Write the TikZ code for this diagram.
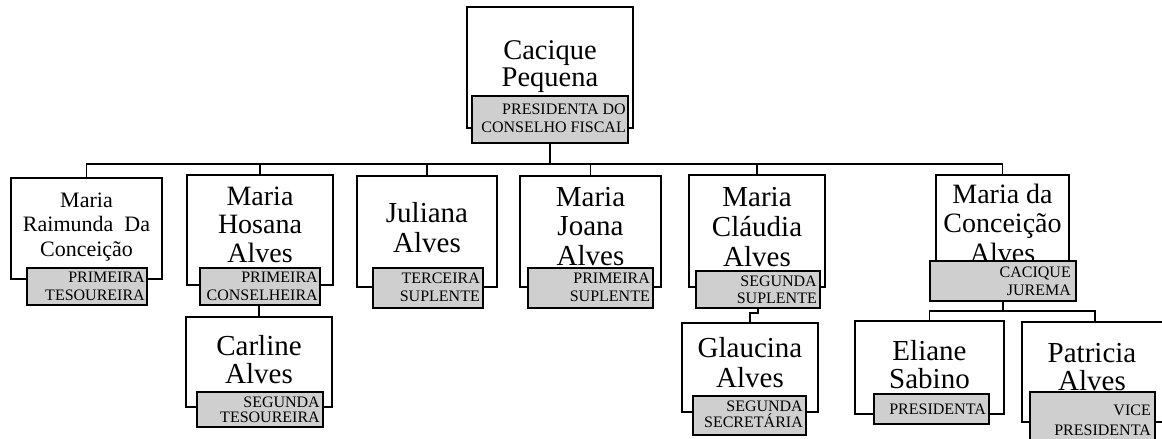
\documentclass[tikz,border=0pt]{standalone}
\usepackage{fontspec}
\setmainfont{Liberation Serif}
\definecolor{labgray}{RGB}{207,207,207}
\tikzset{
 pbox/.style={draw, line width=1.8pt, fill=white, inner sep=0pt},
 lbox/.style={draw, line width=1.6pt, fill=labgray, inner sep=0pt},
 nm/.style={align=center, inner sep=0pt, anchor=base, font=\fontsize{29}{29.5}\selectfont},
 lt/.style={align=right, inner sep=0pt, anchor=base east, font=\fontsize{16}{17.5}\selectfont},
 conn/.style={line width=1.8pt},
}
\newcommand\pbx[5]{\node[pbox, minimum width={(#4)-(#2)}, minimum height={(#5)-(#3)}] (#1) at ({((#2)+(#4))/2},{((#3)+(#5))/2}) {};}
\newcommand\lbx[5]{\node[lbox, minimum width={(#4)-(#2)}, minimum height={(#5)-(#3)}] (#1) at ({((#2)+(#4))/2},{((#3)+(#5))/2}) {};}
\begin{document}
\begin{tikzpicture}[x=1pt,y=-1pt]
\useasboundingbox (0,0) rectangle (1162,439);
\clip (0,0) rectangle (1162,439);
% top
\pbx{b0}{467}{7}{633}{128}
\node[nm, font=\fontsize{28.5}{26.5}\selectfont] (n0) at (550,86) {Cacique\\Pequena};
\lbx{l0}{472}{96}{628}{143}
\node[lt] (t0) at (626,132) {PRESIDENTA DO\\CONSELHO FISCAL};
% row 1
\pbx{b1}{11}{178}{162}{279}
\node[nm, font=\fontsize{22}{24.5}\selectfont] (n1) at (86.5,256) {Maria\\Raimunda~ Da\\Conceição};
\lbx{l1}{27}{268}{147}{305}
\node[lt] (t1) at (145,300) {PRIMEIRA\\TESOUREIRA};
\pbx{b2}{187}{175}{333}{285}
\node[nm, font=\fontsize{28}{28.5}\selectfont] (n2) at (260,262) {Maria\\Hosana\\Alves};
\lbx{l2}{200}{268}{320}{305}
\node[lt] (t2) at (318,300) {PRIMEIRA\\CONSELHEIRA};
\pbx{b3}{357}{176}{497}{287}
\node[nm, font=\fontsize{29}{30}\selectfont] (n3) at (427,252) {Juliana\\Alves};
\lbx{l3}{373}{268}{483}{308}
\node[lt] (t3) at (480,301) {TERCEIRA\\SUPLENTE};
\pbx{b4}{520}{176}{661}{287}
\node[nm] (n4) at (590.5,265) {Maria\\Joana\\Alves};
\lbx{l4}{528}{268}{653}{308}
\node[lt] (t4) at (650,301) {PRIMEIRA\\SUPLENTE};
\pbx{b5}{689}{175}{825}{287}
\node[nm, font=\fontsize{29}{30}\selectfont] (n5) at (757,266) {Maria\\Cláudia\\Alves};
\lbx{l5}{696}{271}{820}{308}
\node[lt, font=\fontsize{16}{16.5}\selectfont] (t5) at (817,303) {SEGUNDA\\SUPLENTE};
\pbx{b6}{936}{175}{1069}{275}
\node[nm, font=\fontsize{28}{29.5}\selectfont] (n6) at (1002.5,262) {Maria da\\Conceição\\Alves};
\lbx{l6}{930}{261}{1076}{301}
\node[lt] (t6) at (1071,295) {CACIQUE\\JUREMA};
% row 2
\pbx{b7}{186}{317}{332}{407}
\node[nm, font=\fontsize{29}{28}\selectfont] (n7) at (259,383) {Carline\\Alves};
\lbx{l7}{197}{392}{323}{427}
\node[lt, font=\fontsize{16}{14.5}\selectfont] (t7) at (320,422) {SEGUNDA\\TESOUREIRA};
\pbx{b8}{682}{323}{818}{412}
\node[nm, font=\fontsize{29}{30}\selectfont] (n8) at (750,387) {Glaucina\\Alves};
\lbx{l8}{693}{396}{806}{435}
\node[lt, font=\fontsize{16}{16}\selectfont] (t8) at (803,427) {SEGUNDA\\SECRETÁRIA};
\pbx{b9}{855}{321}{1004}{414}
\node[nm, font=\fontsize{29}{28}\selectfont] (n9) at (929.5,388) {Eliane\\Sabino};
\lbx{l9}{874}{394}{989}{424}
\node[lt] (t9) at (986,414) {PRESIDENTA};
\pbx{b10}{1022}{322}{1168}{422}
\node[nm, font=\fontsize{29}{28}\selectfont] (n10) at (1092,390) {Patricia\\Alves};
\lbx{l10}{1030}{392}{1155}{452}
\node[lt, font=\fontsize{16}{20}\selectfont] (t10) at (1151,435) {VICE\\PRESIDENTA};
% connectors
\draw[conn] (l0.south) -- ++(0,20) coordinate (j0);
\draw[conn] (b1.north) |- (b6.north |- j0) -- (b6.north);
\draw[conn] (b2.north) -- (b2.north |- j0);
\draw[conn] (b3.north) -- (b3.north |- j0);
\draw[conn] (b4.north) -- (b4.north |- j0);
\draw[conn] (b5.north) -- (b5.north |- j0);
\draw[conn] (b7.north) -- (b7.north |- l2.south);
\draw[conn] (l5.south) -- ++(0,4) -| (b8.north);
\draw[conn] (l6.south) -- ++(0,9) coordinate (j6);
\draw[conn] (b9.north) |- (b10.north |- j6) -- (b10.north);
\end{tikzpicture}
\end{document}
